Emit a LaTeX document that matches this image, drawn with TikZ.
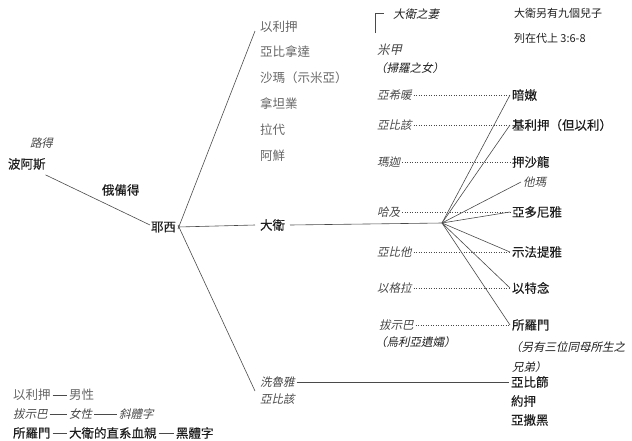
\documentclass[tikz,border=0pt]{standalone}
\usepackage{fontspec}
\newfontfamily\cjk{Noto Sans CJK TC}
\newfontfamily\cjkit[FakeSlant=0.22]{Noto Sans CJK TC}
\newfontfamily\cjkbd[FakeBold=0.35]{Noto Sans CJK TC}
\definecolor{ink}{HTML}{1E1E1E}
\definecolor{soft}{HTML}{666666}
\definecolor{fem}{HTML}{474747}
\definecolor{wirec}{HTML}{4A4A4A}
\begin{document}
\begin{tikzpicture}[x=1pt,y=-1pt,
  every node/.style={inner sep=0pt, outer sep=2pt, anchor=west},
  male/.style={font=\cjk\fontsize{12.5}{14}\selectfont, text=soft},
  female/.style={font=\cjkit\fontsize{11.5}{14}\selectfont, text=fem},
  lineal/.style={font=\cjkbd\fontsize{12.5}{14}\selectfont, text=ink},
  notei/.style={font=\cjkit\fontsize{11.5}{14}\selectfont, text=ink},
  noteu/.style={font=\cjk\fontsize{11}{14}\selectfont, text=ink},
  wire/.style={draw=wirec, line width=0.6pt},
  dots/.style={draw=wirec, line width=0.9pt, dash pattern=on 0.9pt off 1.6pt}]
\useasboundingbox (0,0) rectangle (632,440);

% left ancestors
\node[female] (ruth) at (28,143) {路得};
\node[lineal] (boaz) at (6,164) {波阿斯};
\node[lineal] (obed) at (100,190) {俄備得};
\node[lineal] (jesse) at (149,227) {耶西};
\node[lineal, outer sep=5pt] (david) at (255,225) {大衛};

% other sons of Jesse
\node[male] (eliab) at (258,27) {以利押};
\node[male] (abin) at (258,52) {亞比拿達};
\node[male] (shammah) at (258,78) {沙瑪（示米亞）};
\node[male] (neth) at (258,104) {拿坦業};
\node[male] (rad) at (258,130) {拉代};
\node[male] (ozem) at (258,156) {阿鮮};

% daughters of Jesse
\node[female] (zeru) at (258,382) {洗魯雅};
\node[female] (abig2) at (258,399) {亞比該};
\node[lineal] (abishai) at (509,382) {亞比篩};
\node[lineal] (joab) at (509,401) {約押};
\node[lineal] (asahel) at (509,420) {亞撒黑};

% wives of David
\coordinate (cornerA) at (375,33);
\coordinate (cornerB) at (375,13);
\coordinate (cornerC) at (384,13);
\node[notei] (wivesnote) at (391,14) {大衛之妻};
\node[noteu] (nine) at (512,13) {大衛另有九個兒子};
\node[noteu] (nine2) at (512,38) {列在代上 3:6-8};
\node[female, font=\cjkit\fontsize{12.5}{14}\selectfont] (michal) at (375,50) {米甲};
\node[notei] (saul) at (373,68) {（掃羅之女）};

\node[female] (ahin) at (375,95) {亞希暖};
\node[female] (abig) at (375,125) {亞比該};
\node[female] (maacah) at (375,162) {瑪迦};
\node[female] (haggith) at (375,212) {哈及};
\node[female] (abital) at (375,252) {亞比他};
\node[female] (eglah) at (375,288) {以格拉};
\node[female] (bath) at (377,325) {拔示巴};
\node[notei] (uriah) at (373,342) {（烏利亞遺孀）};

% sons of David
\node[lineal] (amnon) at (510,95) {暗嫩};
\node[lineal] (kileab) at (510,125) {基利押（但以利）};
\node[lineal] (absalom) at (510,162) {押沙龍};
\node[female] (tamar) at (521,182) {他瑪};
\node[lineal] (adon) at (510,212) {亞多尼雅};
\node[lineal] (sheph) at (510,252) {示法提雅};
\node[lineal] (ithream) at (510,288) {以特念};
\node[lineal] (solomon) at (510,325) {所羅門};
\node[notei] (bros1) at (508,347) {（另有三位同母所生之};
\node[notei] (bros2) at (510,367) {兄弟）};

\coordinate (hub) at (442,223);

% connectors
\draw[wire] ([shift={(-2,3)}]boaz.south east) -- ([shift={(1,-2)}]jesse.west);
\draw[wire] ([yshift=-2]jesse.east) -- ([shift={(-3,4)}]eliab.west);
\draw[wire] (jesse.east) -- (david.west);
\draw[wire] ([yshift=2]jesse.east) -- ([shift={(-3,-8)}]abig2.west);
\draw[wire] (david.east) -- (hub);
\draw[wire] (zeru.east) -- (abishai.west);
\draw[wire] (cornerA) -- (cornerB) -- (cornerC);

\foreach \w/\s in {ahin/amnon, abig/kileab, maacah/absalom, haggith/adon, abital/sheph, eglah/ithream, bath/solomon}
  \draw[dots] (\w.east) -- (\s.west);
\foreach \s in {amnon, kileab, tamar, adon, sheph, ithream, solomon}
  \draw[wire] (hub) -- (\s.west);

% legend
\node[male] (lg1a) at (11,395) {以利押};
\node[male] (lg1b) at (67,395) {男性};
\node[female] (lg2a) at (11,414) {拔示巴};
\node[female] (lg2b) at (67,414) {女性};
\node[female] (lg2c) at (117,414) {斜體字};
\node[lineal] (lg3a) at (11,433) {所羅門};
\node[lineal] (lg3b) at (67,433) {大衛的直系血親};
\node[lineal] (lg3c) at (174,433) {黑體字};
\draw[wire] (lg1a.east) -- (lg1b.west);
\draw[wire] (lg2a.east) -- (lg2b.west);
\draw[wire] (lg2b.east) -- (lg2c.west);
\draw[wire] (lg3a.east) -- (lg3b.west);
\draw[wire] (lg3b.east) -- (lg3c.west);
\end{tikzpicture}
\end{document}
